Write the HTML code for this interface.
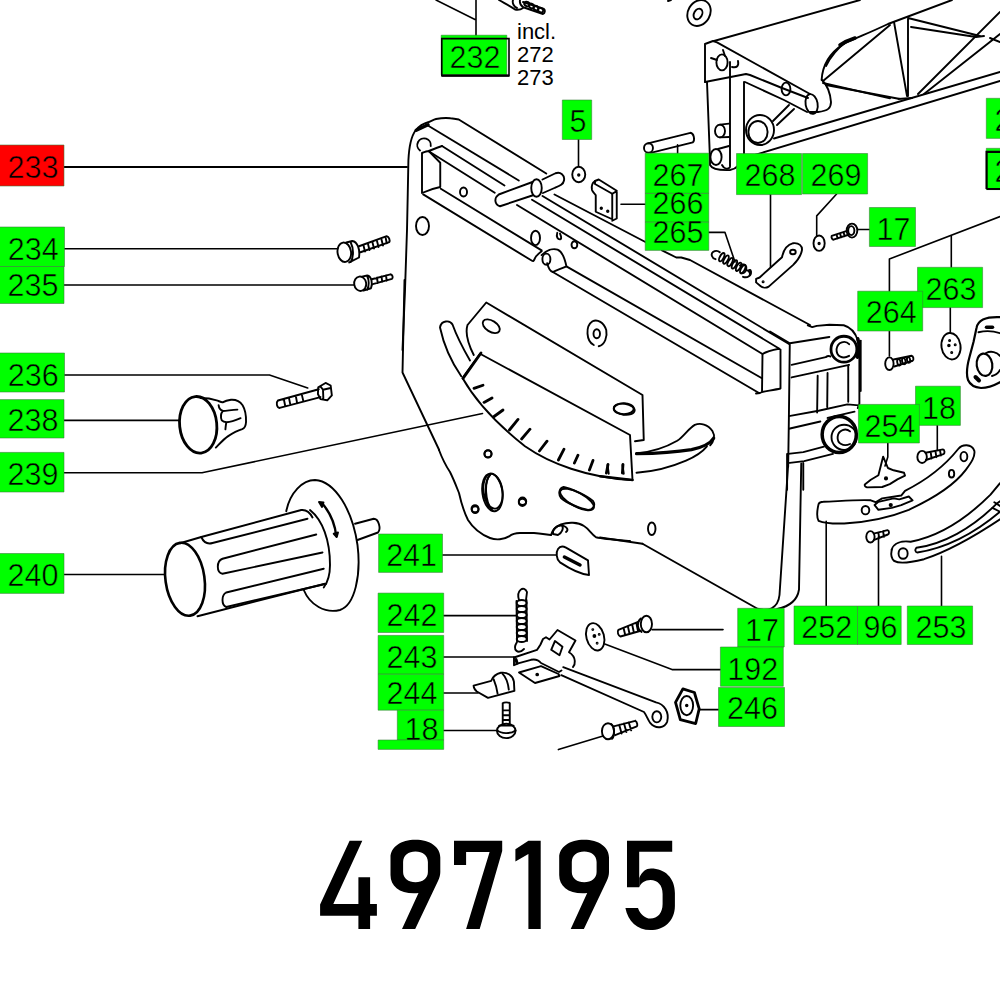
<!DOCTYPE html>
<html><head><meta charset="utf-8"><style>
html,body{margin:0;padding:0;background:#fff;width:1000px;height:1000px;overflow:hidden}
svg{display:block}
path,line,ellipse,circle,polyline,polygon,rect{vector-effect:non-scaling-stroke}
text{font-family:"Liberation Sans",sans-serif;font-size:30.5px;fill:#000}
</style></head><body>
<svg width="1000" height="1000" viewBox="0 0 1000 1000">
<rect width="1000" height="1000" fill="#fff"/>
<g fill="none" stroke="#000" stroke-width="1.9" stroke-linecap="round" stroke-linejoin="round">
<g transform="translate(380,100) scale(0.250000)">
<path d="M90,1000 L100,760 L108,520 L111,376 L113.6,241.6 C116,190 125,145 142,122 C160,100 180,92 195,88 C205,84 215,78 224,76 C245,72 265,71 282,73 C295,74 305,76 315,78 L665,294"/>
<path d="M145,121 L192,99" stroke-width="3.5"/>
<path d="M185,98 L555,322"/>
<path d="M248,184 L498,342"/>
<path d="M195,205 L459,371"/>
<path d="M160,202 A27,27 0 1,1 203,184"/>
<path d="M168,212 L168,372 M168,212 C180,207 190,204 195,204 C215,196 235,188 248,184 M195,204 L241,251 L241,348 M168,372 C190,362 220,352 241,348"/>
<path d="M480,425 C458,420 455,392 475,378 L610,328 M650,318 L702,293 C722,286 740,300 736,322 C733,338 720,343 700,351 L652,372 M480,425 L612,381"/>
<ellipse cx="626" cy="352" rx="21" ry="35"/>
<ellipse cx="795" cy="298" rx="26" ry="31"/>
<circle cx="795" cy="300" r="3" fill="#000"/>
</g>
<g transform="translate(420,180) scale(0.160000)">
<path d="M20,90 L700,505 C708,510 712,505 718,490 C725,472 740,460 760,445"/>
<path d="M130,55 L760,440"/>
<ellipse cx="722" cy="362" rx="28" ry="45"/>
<ellipse cx="272" cy="75" rx="22" ry="28"/>
<path d="M760,470 C790,440 830,425 860,435 C885,445 905,490 915,540 C880,555 850,565 830,575 C810,570 800,540 795,520"/>
<ellipse cx="790" cy="495" rx="25" ry="35"/>
<path d="M858,330 C850,355 860,375 880,370 C885,360 880,345 875,335" />
<ellipse cx="965" cy="405" rx="18" ry="22"/>
</g>
<g transform="translate(505,160) scale(0.149993)">
<path d="M600,140 C585,150 575,175 580,200 C585,215 600,225 605,235 L605,345 L715,395 L715,225 L600,160 Z"/>
<path d="M600,140 L625,130 L745,205 L745,390 L715,405 M715,225 L745,208"/>
<circle cx="642" cy="322" r="5" fill="#000"/>
<circle cx="685" cy="342" r="5" fill="#000"/>
</g>
<path d="M554.5,194.5 L648.75,243.75 M662,250.4 L676.25,257.5 L681.25,257.5 L690,260 L810,325"/>
<path d="M542.5,196 L789,344"/>
<path d="M532,199.75 L779,348.5"/>
<path d="M517,205 L762.5,354"/>
<path d="M566.4,266.4 L761.5,378"/>
<path d="M552.8,272 L759,393"/>
<g transform="translate(700,300) scale(0.100000)">
<path d="M625,540 L620,920 M625,540 C650,525 700,505 790,488 L805,495 L805,885 C760,895 700,905 620,920 L600,930 L560,935"/>
</g>
<g transform="translate(770,310) scale(0.179856)">
<path d="M210,85 L235,95 L260,88 L330,82 L410,85 C445,95 475,125 488,170 C496,200 497,230 497,260 L497,520 L488,545"/>
<path d="M110,185 L330,150 M110,185 L105,600 L101,872 M0,120 L110,185"/>
<path d="M120,305 L310,262 C318,256 325,252 335,258"/>
<circle cx="411" cy="218" r="72" stroke-width="2.8"/>
<path d="M488,160 C498,190 498,230 486,262" stroke-width="3.5"/>
<path d="M440,190 C420,168 375,175 370,218 C368,258 405,275 440,255"/>
<path d="M120,375 L440,305 M265,365 L262,570 M320,350 L318,540 M435,305 L435,510"/>
<path d="M105,590 L270,560 L430,525 L495,530 M105,660 L280,620 M320,600 L470,565"/>
<ellipse cx="385" cy="692" rx="95" ry="100" stroke-width="3.5"/>
<circle cx="412" cy="708" r="70"/>
<path d="M445,675 C422,655 380,665 376,705 C373,742 408,762 445,745"/>
<path d="M100,800 L185,790 L300,760 M110,850 L190,840 L350,800 M185,850 L185,1000 M95,800 L95,1000"/>
</g>
<g transform="translate(400,280) scale(0.250000)">
<path d="M18,0 L10,370 L156.7,680"/>
<path d="M320,295 L920,620 L930,800 M320,295 L250,392 C300,480 380,570 500,665 C600,735 750,790 925,800"/>

<path d="M270,180 L345,90 L970,460 L975,640 L940,645 M270,180 C262,205 265,240 295,300"/>
<ellipse cx="365" cy="185" rx="38" ry="22" transform="rotate(32 365 185)"/>
<ellipse cx="897" cy="517" rx="42" ry="22" transform="rotate(8 897 517)"/>
<path d="M160,190 C165,160 200,160 210,178 C225,220 250,270 280,322 M160,190 C175,260 200,320 245,385"/>
<path d="M775,260 C745,245 740,185 770,165 C790,155 815,170 825,200 C830,225 820,260 795,265"/>
<ellipse cx="787" cy="215" rx="13" ry="18"/>
<circle cx="352" cy="695" r="14"/>
<circle cx="490" cy="885" r="15"/>
<circle cx="300" cy="915" r="14"/>
<ellipse cx="372" cy="845" rx="38" ry="70" transform="rotate(-8 372 845)"/>
<path d="M360,780 C340,800 335,870 355,910"/>
<ellipse cx="708" cy="878" rx="75" ry="28" transform="rotate(28 708 878)"/>
</g>
<g transform="translate(455,340) scale(0.200000)">
<path d="M95,242 L140,226 M145,312 L185,290 M192,385 L240,350 M272,450 L315,397 M333,495 L375,446 M422,555 L460,506 M517,600 L545,546 M597,615 L615,576 M672,650 L690,602 M757,665 L765,622 M837,665 L840,622" stroke-width="2.8"/>
<path d="M130,65 L40,192" stroke-width="2.8"/>
</g>
<g transform="translate(600,380) scale(0.250000)">
<path d="M170,655 L630,915 C670,928 712,915 718,860 L752,348"/>
<path d="M805,334 L796,838 C790,880 760,905 709,916"/>
<path d="M0,630 L170,655"/>
<path d="M0,385 L130,400" stroke-width="2.6"/>
<path d="M30,340 L35,375 M90,340 L95,375"/>
<ellipse cx="95" cy="115" rx="40" ry="22"/>
<ellipse cx="207" cy="595" rx="15" ry="25"/>
</g>
<g transform="translate(430,450) scale(0.200000)">
<path d="M45,0 C60,40 80,80 100,110 C120,150 135,190 145,215 C155,260 165,300 190,350 C215,390 250,420 300,440 C330,452 370,448 395,432 C410,420 425,415 450,415 L520,415 C560,418 590,425 605,425"/>
<path d="M605,425 C610,405 625,385 655,372 C690,360 740,360 770,380 C795,395 805,420 830,436 C870,445 940,450 1000,455"/>
<path d="M615,420 C610,395 635,375 660,378 C670,390 660,415 640,425 Z"/>
<path d="M665,378 C685,385 695,398 680,410"/>
<circle cx="290" cy="20" r="18"/>
<ellipse cx="312" cy="212" rx="50" ry="95" transform="rotate(-8 312 212)"/>
<path d="M300,125 C270,160 275,260 310,300"/>
<circle cx="226" cy="298" r="17"/>
<circle cx="462" cy="262" r="18"/>
<path d="M668,185 C700,190 780,225 815,255 C830,275 815,300 790,300 C760,295 680,265 655,240 C640,220 645,190 668,185 Z"/>
<path d="M640,495 C650,480 665,480 680,488 L790,552 L795,625 C760,622 700,595 650,562 C630,545 630,510 640,495 Z"/>
<path d="M672,535 L750,575" stroke-width="3.5"/>
</g>
<g transform="translate(440,600) scale(0.160000)">
<path d="M210,535 L320,505 C330,480 350,462 380,455 C420,450 455,470 462,510 L465,568 L300,612 L230,572 C215,560 210,548 210,535 Z"/>
<path d="M390,460 C410,480 425,515 430,560 M335,495 C345,520 355,545 360,585"/>
<path d="M392,645 L392,770 M436,645 L436,770 M392,645 C400,638 428,638 436,645 M392,690 L436,690 M392,720 L436,720 M392,750 L436,750"/>
<ellipse cx="414" cy="818" rx="58" ry="45"/>
<path d="M358,815 C380,835 440,840 472,815 M370,785 L460,785"/>
</g>
<g transform="translate(560,600) scale(0.160000)">
<ellipse cx="540" cy="150" rx="35" ry="52"/>
<path d="M505,115 C480,135 480,180 510,200"/>
<path d="M365,187 L492,135 M378,228 L505,192 M365,187 C355,200 365,225 378,228 M398,178 L408,220 M425,168 L435,212 M452,158 L462,205 M478,148 L488,198"/>
<ellipse cx="220" cy="230" rx="55" ry="87" transform="rotate(-15 220 230)"/>
<circle cx="215" cy="225" r="6" fill="#000"/>
<circle cx="205" cy="185" r="3" fill="#000"/><circle cx="232" cy="270" r="3" fill="#000"/><circle cx="245" cy="215" r="3" fill="#000"/>
<path d="M20,420 L600,640 C650,650 685,700 670,760 C655,800 600,810 565,770 C550,750 540,720 525,700 L8,470"/>
<ellipse cx="605" cy="730" rx="28" ry="35"/>
<path d="M722,640 L768,555 L840,578 L870,680 L848,772 L752,748 Z" stroke-width="2.8"/>
<ellipse cx="792" cy="660" rx="40" ry="60"/>
<circle cx="792" cy="660" r="5" fill="#000"/>
<ellipse cx="300" cy="820" rx="38" ry="50"/>
<path d="M320,775 C340,790 345,850 325,868"/>
<path d="M335,790 L470,755 M345,845 L480,790 M470,755 C485,765 485,785 480,790 M370,780 L385,835 M400,772 L415,825 M430,765 L445,815"/>
</g>
<g stroke-width="1.6">
<path d="M64,167 L407,167" stroke-width="2"/>
<path d="M64,248.8 L338,248.8"/>
<path d="M64,285 L354,285"/>
<path d="M64,375 L269.5,375 L307.7,388"/>
<path d="M64,420.4 L179.4,420.4"/>
<path d="M64,472.8 L202,472.8 L482.5,413.5"/>
<path d="M64,574.5 L165,574.5"/>
<path d="M476,0 L476,38 M436,0 L476,20"/>
<path d="M578.5,139.5 L578.5,166"/>
<path d="M677.6,144.8 L677.6,153.2"/>
<path d="M621,204.2 L645.2,204.2"/>
<path d="M705,232.4 L725,232.4 L735,262"/>
<path d="M770.5,194.6 L770.5,267"/>
<path d="M836.6,194 L816.7,215.9 L816.7,236.2"/>
<path d="M857.6,229.5 L869.4,229.5"/>
<path d="M1000,216.6 L889.4,259 L889.4,291.2 M889.4,331 L889.4,356"/>
<path d="M951.3,236 L951.3,267.3 M950.3,307.6 L950.3,332.9"/>
<path d="M887.8,443 L887.8,457 L885,466"/>
<path d="M937.3,424.8 L937.3,450"/>
<path d="M826.2,521.3 L826.2,606 M878.5,536.7 L878.5,606 M941.5,556.3 L941.5,606"/>
<path d="M442.5,555 L556,555"/>
<path d="M443.7,615.6 L516,615.6 M443.7,657 L514,657 M443.7,693 L478,693 M443.7,730.5 L497,730.5"/>
<path d="M652,629.6 L723,629.6"/>
<path d="M604.8,644 L672,669.6 L720.4,669.6"/>
<path d="M699,709.6 L718.5,709.6"/>
<path d="M558.4,749.6 L603,736"/>
</g>
<g transform="translate(260,220) scale(0.149993)">
<ellipse cx="562" cy="215" rx="45" ry="65" transform="rotate(-8 562 215)"/>
<path d="M575,150 L615,140 C650,145 668,195 660,250 L595,283 M605,150 C625,190 625,245 605,280"/>
<path d="M660,175 L845,108 C860,110 868,135 862,148 L670,215"/>
<path d="M690,170 L700,210 M720,160 L730,200 M750,150 L760,190 M780,140 L790,180 M810,130 L820,170 M838,120 L845,155"/>
<ellipse cx="668" cy="425" rx="40" ry="48" transform="rotate(-8 668 425)"/>
<path d="M680,378 L715,370 C745,375 752,425 740,455 L690,470 M715,375 C728,400 728,440 715,465"/>
<path d="M745,395 L870,362 C885,365 888,385 880,392 L752,428 M780,385 L785,420 M810,377 L815,412 M840,370 L845,405"/>
</g>
<g transform="translate(170,360) scale(0.170010)">
<path d="M872,160 L915,135 L945,150 L952,208 L925,237 L885,230 L870,200 Z M885,155 L900,175 L902,228 M900,175 L945,165"/>
<path d="M635,238 L875,172 M645,282 L885,218 M635,238 C622,250 628,280 645,282 M670,232 L678,272 M700,224 L708,264 M740,212 L748,255 M775,202 L785,245"/>
</g>
<g transform="translate(150,470) scale(0.250000)">
<ellipse cx="140" cy="437" rx="78" ry="147" transform="rotate(-8 140 437)" stroke-width="2.6"/>
<path d="M120,293 L205,268 L605,160 C625,158 640,170 650,190"/>
<path d="M205,268 C215,290 230,298 250,292 L630,195"/>
<path d="M190,585 L700,455"/>
<path d="M290,355 L665,258 M290,415 L690,330 M290,355 C265,365 265,410 290,415"/>
<path d="M305,490 L695,395 M305,548 L705,455 M305,490 C285,500 285,540 305,548"/>
<path d="M545,165 C560,90 610,40 660,40 C740,45 810,160 830,300 C845,420 820,540 760,560 C700,575 640,540 615,480"/>
<path d="M640,160 C690,200 720,280 720,380 C720,420 710,450 695,470"/>
<path d="M690,135 C720,170 740,215 745,265" stroke-width="2.4"/>
<path d="M676,128 L694,130 L688,148 Z M747,268 L735,255 L752,250 Z" fill="#000"/>
<path d="M820,215 L895,195 C915,195 925,235 912,250 L830,280"/>
</g>
<g transform="translate(480,0) scale(0.100000)">
<path d="M190,0 C240,30 300,60 350,95 C380,100 410,95 430,80"/>
<path d="M330,0 C320,30 340,70 370,80 M400,0 C395,25 410,55 430,70"/>
<path d="M430,20 L640,90 C655,100 650,130 630,140 L440,75"/>
<ellipse cx="470" cy="40" rx="22" ry="28" transform="rotate(-60 470 40)"/>
<ellipse cx="515" cy="60" rx="22" ry="28" transform="rotate(-60 515 60)"/>
<ellipse cx="560" cy="80" rx="22" ry="28" transform="rotate(-60 560 80)"/>
<ellipse cx="605" cy="100" rx="22" ry="28" transform="rotate(-60 605 100)"/>
</g>
<g transform="translate(690,0) scale(0.200000)">
<ellipse cx="45" cy="65" rx="55" ry="68" transform="rotate(30 45 65)"/>
<ellipse cx="40" cy="70" rx="20" ry="28" transform="rotate(30 40 70)"/>
<path d="M-110,5 L-95,0"/>
<path d="M120,205 L850,0"/>
<path d="M75,220 L75,410 M75,220 L115,205 L135,212 L600,470"/>
<path d="M85,410 L100,800 L100,825 C110,845 150,852 200,850 C235,845 255,820 265,780"/>
<path d="M75,410 L280,370 L300,375 L460,440 M460,440 L590,490"/>
<path d="M275,410 L470,500 L585,560"/>
<ellipse cx="480" cy="445" rx="22" ry="32"/>
<ellipse cx="608" cy="520" rx="30" ry="50" transform="rotate(-10 608 520)"/>
<path d="M200,310 L200,830 M270,410 L270,780"/>
<ellipse cx="160" cy="312" rx="28" ry="40"/>
<path d="M105,290 L135,300 M165,250 L175,280 M240,305 C245,330 235,340 210,335"/>
<ellipse cx="150" cy="655" rx="25" ry="32"/>
<path d="M150,623 L195,618 M150,687 L195,685"/>
<ellipse cx="130" cy="785" rx="28" ry="40"/>
<path d="M140,745 L195,730 M160,825 C170,845 190,850 200,835"/>
<ellipse cx="350" cy="650" rx="70" ry="75"/>
<ellipse cx="340" cy="660" rx="48" ry="55"/>
<path d="M415,605 L495,525 M435,625 L520,545"/>

<path d="M680,330 C700,290 740,240 780,210"/>
<path d="M660,400 C680,420 700,450 705,510 C705,540 690,555 640,560 L600,560"/>
<path d="M665,415 L1000,492 M665,405 L1000,125"/>
</g>
<path d="M774,138.5 L1000,72"/>
<path d="M743,158.5 L1000,81"/>
<g transform="translate(800,0) scale(0.200000)">
<path d="M108,400 C112,330 150,265 215,222 C265,195 330,172 440,120 L760,0"/><path d="M200,225 C225,208 250,198 275,190" stroke-width="3.5"/>
<path d="M470,110 L535,480 M540,95 L540,480 M540,90 L900,180 M555,135 L880,185 M880,185 L920,180"/>
<path d="M590,470 L1000,60 M620,470 L1000,170 M950,190 L1000,210"/>
<path d="M130,425 L500,495 M490,495 L560,490"/>
</g>
<g transform="translate(620,100) scale(0.160000)">
<ellipse cx="178" cy="300" rx="28" ry="30"/>
<path d="M175,271 L440,205 C462,208 470,250 455,265 L192,330"/>
</g>
<g transform="translate(680,230) scale(0.100000)">
<path d="M355,292 C318,282 305,240 330,220 C350,205 380,205 398,222"/>
<ellipse cx="418" cy="272" rx="19" ry="46" transform="rotate(29 418 272)"/><ellipse cx="460" cy="296" rx="19" ry="46" transform="rotate(29 460 296)"/><ellipse cx="502" cy="320" rx="19" ry="46" transform="rotate(29 502 320)"/><ellipse cx="544" cy="344" rx="19" ry="46" transform="rotate(29 544 344)"/><ellipse cx="586" cy="368" rx="19" ry="46" transform="rotate(29 586 368)"/><ellipse cx="628" cy="392" rx="19" ry="46" transform="rotate(29 628 392)"/>
<path d="M630,468 C675,485 715,455 710,415 C706,398 695,396 688,402"/>
</g>
<g transform="translate(740,190) scale(0.139997)">
<path d="M115,635 L140,625 L300,480 C310,430 340,390 380,380 C420,375 448,400 442,432 C435,470 400,515 380,535 L205,690 C185,702 160,698 148,688 L115,660 Z"/>
<ellipse cx="378" cy="443" rx="20" ry="16"/>
<circle cx="165" cy="655" r="4" fill="#000"/>
<ellipse cx="565" cy="380" rx="40" ry="55"/>
<circle cx="565" cy="382" r="5" fill="#000"/>
<ellipse cx="800" cy="290" rx="38" ry="50"/>
<ellipse cx="795" cy="290" rx="22" ry="32"/>
<path d="M655,328 L770,290 M668,355 L780,318 M655,328 C650,340 660,355 668,355 M690,320 L698,346 M715,312 L723,338 M740,304 L748,330"/>
<path d="M0,540 C20,525 40,530 45,550 C50,575 30,600 10,595 M40,570 C60,575 75,585 70,605"/>
</g>
<g transform="translate(860,300) scale(0.139997)">
<ellipse cx="210" cy="455" rx="30" ry="45"/>
<path d="M240,425 L368,398 C382,400 386,428 376,434 L245,475"/><ellipse cx="278" cy="445" rx="12" ry="24" transform="rotate(-12 278 445)"/><ellipse cx="313" cy="437" rx="12" ry="22" transform="rotate(-12 313 437)"/><ellipse cx="347" cy="428" rx="11" ry="20" transform="rotate(-12 347 428)"/>
<ellipse cx="650" cy="330" rx="68" ry="95" transform="rotate(-8 650 330)"/>
<circle cx="635" cy="325" r="6" fill="#000"/><circle cx="640" cy="290" r="4" fill="#000"/><circle cx="680" cy="320" r="4" fill="#000"/><circle cx="655" cy="375" r="4" fill="#000"/>
<path d="M5,290 L5,650"/>
</g>
<g transform="translate(810,430) scale(0.190006)">
<path d="M290,285 L320,262 L360,238 L385,140 L410,200 L440,212 L495,225 L500,240 L460,260 L420,285 L380,300 L300,302 C288,298 285,290 290,285 Z"/>
<circle cx="400" cy="255" r="6" fill="#000"/>
<ellipse cx="590" cy="142" rx="25" ry="32"/>
<path d="M608,120 L700,102 C710,104 710,124 702,127 L610,158 M635,115 L640,150 M660,110 L665,143 M684,106 L689,134"/>
<path d="M45,390 C50,380 60,378 70,378 C150,375 250,366 320,370 L345,380 L380,360 L480,345 L500,320 C600,270 700,200 780,100 C800,75 850,70 865,110 C870,140 850,170 820,210 C760,290 650,360 520,420 C420,460 300,485 180,492 C120,494 80,492 45,478 C35,460 38,420 45,390 Z"/>
<path d="M340,395 L360,378 L440,360 L470,365 L520,350 L540,370 L480,395 L430,410 L360,420 Z"/>
<circle cx="425" cy="395" r="6" fill="#000"/>
<ellipse cx="810" cy="140" rx="18" ry="25"/>
<ellipse cx="745" cy="230" rx="14" ry="20"/>
<ellipse cx="292" cy="422" rx="20" ry="22"/>
<ellipse cx="318" cy="562" rx="22" ry="30"/>
<path d="M335,545 L408,527 C418,529 418,546 410,550 L338,578 M360,540 L364,570 M385,533 L389,562"/>
<path d="M430,630 C440,595 480,582 530,588 C650,565 800,490 950,340 L1000,280 M445,690 C470,705 520,700 600,680 C750,630 880,550 1000,470"/>
<path d="M430,630 C425,655 430,680 445,690"/>
<ellipse cx="490" cy="650" rx="24" ry="28"/>
<path d="M560,620 C700,600 850,520 980,390 L1000,375 M560,620 C550,630 555,645 565,645 C720,620 870,540 1000,430"/>
<path d="M970,380 L1000,400 M960,410 L1000,430"/>
</g>
<ellipse cx="422.5" cy="226" rx="6.5" ry="9"/>
<ellipse cx="420" cy="226" rx="0" ry="0"/>
<path d="M519,600 C516,590 524,585 527,592 L526,600"/>
<path d="M516.5,601 L517,641 M526.5,600 L527,641"/>
<ellipse cx="521.7" cy="603" rx="5" ry="3"/><ellipse cx="521.7" cy="609" rx="5" ry="3"/><ellipse cx="521.7" cy="615" rx="5" ry="3"/>
<ellipse cx="521.7" cy="621" rx="5" ry="3"/><ellipse cx="521.7" cy="627" rx="5" ry="3"/><ellipse cx="521.7" cy="633" rx="5" ry="3"/><ellipse cx="521.7" cy="639" rx="5" ry="3"/>
<path d="M517,642 C512,650 518,655 524,649"/>
<g transform="translate(620,410) scale(0.110011)">
<path d="M150,395 C250,385 400,350 520,280 C580,240 620,170 680,135 C730,115 800,130 840,190 C870,240 850,290 820,320"/>
<path d="M150,397 C300,395 500,385 650,360 C750,340 820,310 852,255" stroke-width="3.2"/>
<path d="M150,570 C300,560 450,525 600,460 C680,425 750,380 790,330"/>
</g>
<g transform="translate(950,300) scale(0.100000)">
<path d="M500,172 C450,170 380,172 330,195 C295,212 272,240 265,280 L235,420 L195,570 C170,660 160,740 180,800 C200,845 250,875 310,880 C380,880 450,850 500,822" stroke-width="2.2"/>
<path d="M285,322 C330,312 420,305 500,332"/>
<path d="M365,272 L425,272" stroke-width="3.5"/>
<ellipse cx="345" cy="648" rx="78" ry="112" transform="rotate(-8 345 648)" stroke-width="2.2"/>
<path d="M360,530 C410,505 470,520 500,560 M420,760 C460,750 490,720 500,700"/>
<path d="M255,770 L290,805" stroke-width="4"/>
</g>
<g transform="translate(505,620) scale(0.100000)">
<path d="M90,375 L320,298 C335,280 345,262 355,245 L380,190 L410,172 L445,195 L525,100 L705,205 L640,322 C670,340 695,370 698,410 C700,440 690,460 680,470"/>
<path d="M90,375 L90,452 L140,432 L260,398 C300,390 335,400 360,430 L540,520 L565,505"/>
<path d="M500,210 L575,268 L545,352 L462,298 Z"/>
<path d="M140,525 L360,462 L535,540 L545,560 L300,630 Z"/>
<circle cx="322" cy="545" r="9" fill="#000"/>
<path d="M110,395 L120,430" stroke-width="3"/>
</g>
<g transform="translate(175,390) scale(0.080000)">
<ellipse cx="290" cy="435" rx="232" ry="355" transform="rotate(-6 290 435)" stroke-width="2.8"/>
<path d="M320,100 C380,100 460,110 520,130 C550,140 575,150 595,155 C620,140 650,128 700,122 C760,118 810,140 845,190 C875,240 890,320 888,400 C885,450 870,480 840,490 C790,505 720,540 660,580 C610,615 560,670 510,720"/>
<path d="M545,190 C548,220 560,250 600,262 C640,262 700,250 780,245 M600,262 C575,290 565,330 585,380 C610,410 650,410 720,390 C760,378 790,365 820,352 M640,410 C635,440 632,470 630,492"/>
</g>
</g>
<rect x="-1" y="145" width="65.0" height="41.0" fill="#ff0000" stroke="#3c7a3c" stroke-width="0.8" stroke-opacity="0.7"/>
<rect x="-1" y="227" width="65.5" height="39.5" fill="#00ff00" stroke="#3c7a3c" stroke-width="0.8" stroke-opacity="0.7"/>
<rect x="-1" y="266.5" width="65.0" height="37.0" fill="#00ff00" stroke="#3c7a3c" stroke-width="0.8" stroke-opacity="0.7"/>
<rect x="-1" y="353" width="65.5" height="39.0" fill="#00ff00" stroke="#3c7a3c" stroke-width="0.8" stroke-opacity="0.7"/>
<rect x="-1" y="399.6" width="65.0" height="38.4" fill="#00ff00" stroke="#3c7a3c" stroke-width="0.8" stroke-opacity="0.7"/>
<rect x="-1" y="452.4" width="65.0" height="39.6" fill="#00ff00" stroke="#3c7a3c" stroke-width="0.8" stroke-opacity="0.7"/>
<rect x="-1" y="553.5" width="65.0" height="39.9" fill="#00ff00" stroke="#3c7a3c" stroke-width="0.8" stroke-opacity="0.7"/>
<rect x="562.3" y="100" width="29.4" height="39.5" fill="#00ff00" stroke="#3c7a3c" stroke-width="0.8" stroke-opacity="0.7"/>
<rect x="645.2" y="153.2" width="63.6" height="40.2" fill="#00ff00" stroke="#3c7a3c" stroke-width="0.8" stroke-opacity="0.7"/>
<rect x="645.2" y="193.4" width="63.6" height="28.8" fill="#00ff00" stroke="#3c7a3c" stroke-width="0.8" stroke-opacity="0.7"/>
<rect x="645.2" y="222.2" width="63.6" height="28.2" fill="#00ff00" stroke="#3c7a3c" stroke-width="0.8" stroke-opacity="0.7"/>
<rect x="736.5" y="153.5" width="65.1" height="41.1" fill="#00ff00" stroke="#3c7a3c" stroke-width="0.8" stroke-opacity="0.7"/>
<rect x="802.5" y="153.5" width="65.1" height="40.5" fill="#00ff00" stroke="#3c7a3c" stroke-width="0.8" stroke-opacity="0.7"/>
<rect x="869.4" y="207.5" width="46.1" height="39.0" fill="#00ff00" stroke="#3c7a3c" stroke-width="0.8" stroke-opacity="0.7"/>
<rect x="986.3" y="98.3" width="53.7" height="40.1" fill="#00ff00" stroke="#3c7a3c" stroke-width="0.8" stroke-opacity="0.7"/>
<rect x="441.2" y="35.2" width="65.6" height="39.6" fill="#00ff00" stroke="#3c7a3c" stroke-width="0.8" stroke-opacity="0.7"/>
<rect x="986.3" y="148.3" width="53.7" height="41.3" fill="#00ff00" stroke="#3c7a3c" stroke-width="0.8" stroke-opacity="0.7"/>
<rect x="917.5" y="267.3" width="65.1" height="40.3" fill="#00ff00" stroke="#3c7a3c" stroke-width="0.8" stroke-opacity="0.7"/>
<rect x="857.7" y="291.2" width="65.0" height="39.8" fill="#00ff00" stroke="#3c7a3c" stroke-width="0.8" stroke-opacity="0.7"/>
<rect x="915.5" y="386.2" width="44.9" height="39.2" fill="#00ff00" stroke="#3c7a3c" stroke-width="0.8" stroke-opacity="0.7"/>
<rect x="858.4" y="404.4" width="61.0" height="38.6" fill="#00ff00" stroke="#3c7a3c" stroke-width="0.8" stroke-opacity="0.7"/>
<rect x="794" y="606" width="63.5" height="38.5" fill="#00ff00" stroke="#3c7a3c" stroke-width="0.8" stroke-opacity="0.7"/>
<rect x="857.5" y="606" width="43.7" height="38.5" fill="#00ff00" stroke="#3c7a3c" stroke-width="0.8" stroke-opacity="0.7"/>
<rect x="907.3" y="606" width="65.3" height="38.5" fill="#00ff00" stroke="#3c7a3c" stroke-width="0.8" stroke-opacity="0.7"/>
<rect x="737.7" y="608.3" width="46.5" height="38.7" fill="#00ff00" stroke="#3c7a3c" stroke-width="0.8" stroke-opacity="0.7"/>
<rect x="720.4" y="647" width="62.9" height="39.3" fill="#00ff00" stroke="#3c7a3c" stroke-width="0.8" stroke-opacity="0.7"/>
<rect x="718.5" y="687.5" width="66.0" height="39.0" fill="#00ff00" stroke="#3c7a3c" stroke-width="0.8" stroke-opacity="0.7"/>
<rect x="378.6" y="534" width="63.9" height="38.4" fill="#00ff00" stroke="#3c7a3c" stroke-width="0.8" stroke-opacity="0.7"/>
<rect x="378.1" y="593.1" width="65.6" height="39.4" fill="#00ff00" stroke="#3c7a3c" stroke-width="0.8" stroke-opacity="0.7"/>
<rect x="378.1" y="635.4" width="65.6" height="38.8" fill="#00ff00" stroke="#3c7a3c" stroke-width="0.8" stroke-opacity="0.7"/>
<rect x="378.1" y="674.2" width="65.6" height="36.0" fill="#00ff00" stroke="#3c7a3c" stroke-width="0.8" stroke-opacity="0.7"/>
<rect x="397.3" y="710.2" width="46.4" height="29.8" fill="#00ff00" stroke="#3c7a3c" stroke-width="0.8" stroke-opacity="0.7"/>
<rect x="378.1" y="740" width="65.6" height="9.4" fill="#00ff00" stroke="#3c7a3c" stroke-width="0.8" stroke-opacity="0.7"/>
<g fill="none" stroke="#000"><path d="M441.8,38.6 L509,38.6 L509,75.6 L441.8,75.6 Z" stroke-width="1.6"/><path d="M441.8,75.6 L509.2,75.6" stroke-width="2.2"/><path d="M986.6,189 L986.6,151.8 L1001,151.8 M986.6,189 L1001,189" stroke-width="2.2"/></g>
<text x="33.0" y="178" text-anchor="middle" stroke="#ff0000" stroke-width="0.5">233</text>
<text x="33.2" y="259.5" text-anchor="middle" stroke="#00ff00" stroke-width="0.5">234</text>
<text x="33.0" y="295.5" text-anchor="middle" stroke="#00ff00" stroke-width="0.5">235</text>
<text x="33.2" y="385.5" text-anchor="middle" stroke="#00ff00" stroke-width="0.5">236</text>
<text x="33.0" y="431.4" text-anchor="middle" stroke="#00ff00" stroke-width="0.5">238</text>
<text x="33.0" y="485.4" text-anchor="middle" stroke="#00ff00" stroke-width="0.5">239</text>
<text x="33.0" y="586" text-anchor="middle" stroke="#00ff00" stroke-width="0.5">240</text>
<text x="578.0" y="132" text-anchor="middle" stroke="#00ff00" stroke-width="0.5">5</text>
<text x="678.0" y="186.2" text-anchor="middle" stroke="#00ff00" stroke-width="0.5">267</text>
<text x="678.0" y="214.4" text-anchor="middle" stroke="#00ff00" stroke-width="0.5">266</text>
<text x="678.0" y="243.2" text-anchor="middle" stroke="#00ff00" stroke-width="0.5">265</text>
<text x="770.0" y="186.2" text-anchor="middle" stroke="#00ff00" stroke-width="0.5">268</text>
<text x="836.0" y="186.2" text-anchor="middle" stroke="#00ff00" stroke-width="0.5">269</text>
<text x="893.5" y="240" text-anchor="middle" stroke="#00ff00" stroke-width="0.5">17</text>
<text x="994.5" y="131.3" stroke="#00ff00" stroke-width="0.5">262</text>
<text x="475.0" y="67.6" text-anchor="middle" stroke="#00ff00" stroke-width="0.5">232</text>
<text x="994.5" y="182" stroke="#00ff00" stroke-width="0.5">262</text>
<text x="951.0" y="299.8" text-anchor="middle" stroke="#00ff00" stroke-width="0.5">263</text>
<text x="891.2" y="322.5" text-anchor="middle" stroke="#00ff00" stroke-width="0.5">264</text>
<text x="939.0" y="418.6" text-anchor="middle" stroke="#00ff00" stroke-width="0.5">18</text>
<text x="889.9" y="437" text-anchor="middle" stroke="#00ff00" stroke-width="0.5">254</text>
<text x="826.8" y="638" text-anchor="middle" stroke="#00ff00" stroke-width="0.5">252</text>
<text x="880.4" y="638" text-anchor="middle" stroke="#00ff00" stroke-width="0.5">96</text>
<text x="941.0" y="638" text-anchor="middle" stroke="#00ff00" stroke-width="0.5">253</text>
<text x="762.0" y="641" text-anchor="middle" stroke="#00ff00" stroke-width="0.5">17</text>
<text x="752.8" y="680.4" text-anchor="middle" stroke="#00ff00" stroke-width="0.5">192</text>
<text x="752.5" y="719.3" text-anchor="middle" stroke="#00ff00" stroke-width="0.5">246</text>
<text x="411.6" y="565.6" text-anchor="middle" stroke="#00ff00" stroke-width="0.5">241</text>
<text x="411.9" y="625.9" text-anchor="middle" stroke="#00ff00" stroke-width="0.5">242</text>
<text x="411.9" y="668" text-anchor="middle" stroke="#00ff00" stroke-width="0.5">243</text>
<text x="411.9" y="704" text-anchor="middle" stroke="#00ff00" stroke-width="0.5">244</text>
<text x="421.5" y="740" text-anchor="middle" stroke="#00ff00" stroke-width="0.5">18</text>
<g style="font-size:22px" fill="#111">
<text x="517" y="39" style="font-size:22px">incl.</text>
<text x="517" y="62" style="font-size:22px">272</text>
<text x="517" y="85" style="font-size:22px">273</text>
</g>
<g fill="#000"><polygon points="349.6,840.8 362.3,840.8 333.3,904 358.4,904 358.4,877.3 370.1,877.3 370.1,904 376.9,904 376.9,915.8 370.1,915.8 370.1,929 358.4,929 358.4,915.8 320.1,915.8 320.1,904.5"/>
<path fill-rule="evenodd" d="M390.5,857.5 C390.5,847 401.0,839.7 415.4,839.7 C430.0,839.7 440.3,847 440.3,857.5 L440.3,872 C440.3,875 439.5,878 438.0,881 L415.2,929 L402.0,929 L418.5,893 C417.0,893.3 415.5,893.3 414.0,893.3 C399.0,893.3 390.5,886 390.5,875 Z M403.1,862 C403.1,855.5 408.5,851.5 415.5,851.5 C422.5,851.5 427.9,855.5 427.9,862 L427.9,872 C427.9,878.5 422.5,882.3 415.5,882.3 C408.5,882.3 403.1,878.5 403.1,872 Z"/>
<path fill-rule="evenodd" d="M559.2,857.5 C559.2,847 569.7,839.7 584.1,839.7 C598.7,839.7 609.0,847 609.0,857.5 L609.0,872 C609.0,875 608.2,878 606.7,881 L583.9,929 L570.7,929 L587.2,893 C585.7,893.3 584.2,893.3 582.7,893.3 C567.7,893.3 559.2,886 559.2,875 Z M571.8,862 C571.8,855.5 577.2,851.5 584.2,851.5 C591.2,851.5 596.6,855.5 596.6,862 L596.6,872 C596.6,878.5 591.2,882.3 584.2,882.3 C577.2,882.3 571.8,878.5 571.8,872 Z"/>
<polygon points="454,840.8 502.2,840.8 502.2,851 479.7,929 466.1,929 489.6,852 466.1,852 466.1,865 454,865"/>
<polygon points="515.4,849.3 528.4,840.8 540.7,840.8 540.7,929 528.4,929 528.4,854 515.4,861.4"/>
<polygon points="627,840.8 672.2,840.8 672.2,851.8 639.2,851.8 639.2,887.2 627,887.2"/>
<path d="M639.2,878 C642,871.5 646,868.5 651,868.5 C665,868.5 674.9,878 674.9,893 L674.9,906 C674.9,921 664,930.1 650.5,930.1 C637,930.1 628,921 625.4,908 L638,908 C640,914 645,918.6 650.5,918.6 C657.5,918.6 662.6,913 662.6,904 L662.6,894 C662.6,885 657.5,880 650.5,880 C645,880 641,883 639.2,887.2 Z"/></g>
</svg>
</body></html>
